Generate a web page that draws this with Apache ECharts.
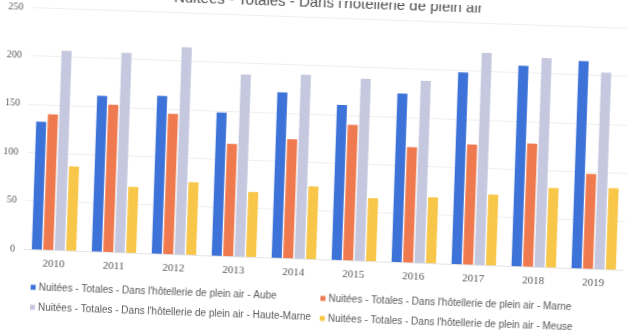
<!DOCTYPE html>
<html><head><meta charset="utf-8">
<script src="https://cdn.jsdelivr.net/npm/echarts@6/dist/echarts.min.js"></script>
<style>
html,body{margin:0;padding:0;background:#fff;overflow:hidden;width:627px;height:336px}
#c{width:627px;height:336px;transform:rotate(2deg);transform-origin:313px 168px}
</style></head><body><div id="c"></div>
<script>
const titleText = "Nuitées - Totales - Dans l'hôtellerie de plein air";
const years = ['2010','2011','2012','2013','2014','2015','2016','2017','2018','2019'];
const yTicks = [0, 50, 100, 150, 200, 250];
const nameAube = "Nuitées - Totales - Dans l'hôtellerie de plein air - Aube";
const nameMarne = "Nuitées - Totales - Dans l'hôtellerie de plein air - Marne";
const nameHM = "Nuitées - Totales - Dans l'hôtellerie de plein air - Haute-Marne";
const nameMeuse = "Nuitées - Totales - Dans l'hôtellerie de plein air - Meuse";
const aube = [132, 161, 163, 148, 171, 160, 174, 198, 207, 214];
const marne = [140, 152, 145, 116, 123, 140, 119, 124, 127, 98];
const hauteMarne = [206, 206, 214, 188, 190, 188, 188, 219, 216, 203];
const meuse = [87, 68, 75, 67, 75, 65, 68, 73, 82, 84];

const colors = ['#3d72d8', '#ef7a4f', '#c5c8de', '#f8c74a'];
const sans = "'Liberation Sans',Arial,sans-serif";
function leg(name, left, top) {
  return {data:[name], left:left, top:top, icon:'rect', itemWidth:5, itemHeight:5,
    padding:0, itemGap:0, selectedMode:false,
    textStyle:{color:'#595959', fontSize:10, fontFamily:sans, padding:[0,0,0,-2]}};
}
const chart = echarts.init(document.getElementById('c'), null, {renderer:'canvas'});
chart.setOption({
  animation:false,
  color:colors,
  title:{text:titleText, right:150, top:-5, padding:0,
    textStyle:{color:'#505050', fontSize:15, fontWeight:'normal', fontFamily:sans}},
  legend:[
    leg(nameAube, 35, 292),
    leg(nameMarne, 325, 293),
    leg(nameHM, 35, 312),
    leg(nameMeuse, 325, 313)
  ],
  grid:{left:20, right:-14, top:17, bottom:336-259, containLabel:false},
  xAxis:{type:'category', data:years,
    axisLine:{show:true, lineStyle:{color:'#e4e4e4'}}, axisTick:{show:false},
    axisLabel:{color:'#595959', fontSize:11, fontFamily:"'Liberation Serif',serif", margin:9}},
  yAxis:{type:'value', min:yTicks[0], max:yTicks[yTicks.length-1], interval:50,
    axisLine:{show:false}, axisTick:{show:false},
    splitLine:{lineStyle:{color:'#efefef'}},
    axisLabel:{color:'#595959', fontSize:10, fontFamily:"'Liberation Serif',serif", margin:9}},
  series:[
    {name:nameAube, type:'bar', data:aube, barGap:'14%', barCategoryGap:'26%'},
    {name:nameMarne, type:'bar', data:marne, barGap:'14%', barCategoryGap:'26%'},
    {name:nameHM, type:'bar', data:hauteMarne, barGap:'14%', barCategoryGap:'26%'},
    {name:nameMeuse, type:'bar', data:meuse, barGap:'14%', barCategoryGap:'26%'}
  ]
});
</script></body></html>
